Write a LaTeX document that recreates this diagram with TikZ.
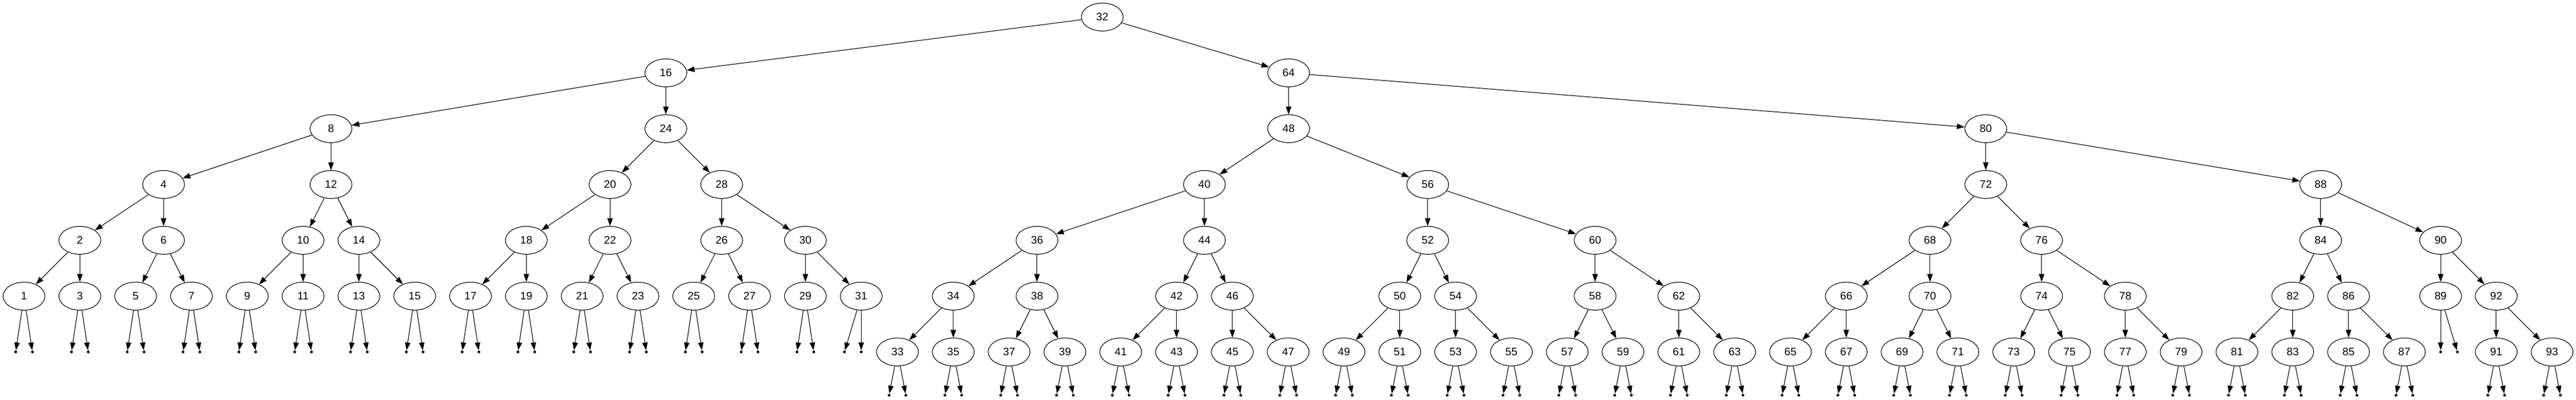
\documentclass[tikz,border=0pt]{standalone}
\usepackage{fontspec}
\setmainfont{Liberation Sans}
\usetikzlibrary{shapes.geometric,arrows.meta}

\begin{document}
\begin{tikzpicture}[x=1pt,y=1pt,line width=0.8pt,
  bst/.style={ellipse,draw,minimum width=54pt,minimum height=36pt,inner sep=0pt,font=\fontsize{14pt}{16pt}\selectfont},
  nil/.style={circle,fill,minimum size=3.6pt,inner sep=0pt},
  >={Triangle[length=10pt,width=7pt]}]
\useasboundingbox (0,0) rectangle (3323.25,-515.25);
% root and upper levels
\node (n32) at (1422,-22) [bst] {32};
\node (n16) at (859,-94) [bst] {16};
\node (n64) at (1662.4,-94) [bst] {64};
\node (n8) at (427,-166) [bst] {8};
\node (n24) at (859,-166) [bst] {24};
\node (n48) at (1662.4,-166) [bst] {48};
\node (n80) at (2561.8,-166) [bst] {80};
\node (n4) at (211,-238) [bst] {4};
\node (n12) at (427,-238) [bst] {12};
\node (n20) at (787,-238) [bst] {20};
\node (n28) at (931,-238) [bst] {28};
\node (n40) at (1553.8,-238) [bst] {40};
\node (n56) at (1841.8,-238) [bst] {56};
\node (n72) at (2561.8,-238) [bst] {72};
\node (n88) at (2993.8,-238) [bst] {88};
\node (n2) at (103,-310) [bst] {2};
\node (n6) at (211,-310) [bst] {6};
\node (n10) at (391,-310) [bst] {10};
\node (n14) at (463,-310) [bst] {14};
\node (n18) at (679,-310) [bst] {18};
\node (n22) at (787,-310) [bst] {22};
\node (n26) at (931,-310) [bst] {26};
\node (n30) at (1039,-310) [bst] {30};
\node (n36) at (1337.8,-310) [bst] {36};
\node (n44) at (1553.8,-310) [bst] {44};
\node (n52) at (1841.8,-310) [bst] {52};
\node (n60) at (2057.8,-310) [bst] {60};
\node (n68) at (2489.8,-310) [bst] {68};
\node (n76) at (2633.8,-310) [bst] {76};
\node (n84) at (2993.8,-310) [bst] {84};
\node (n90) at (3148.6,-310) [bst] {90};
% fifth level
\node (n1) at (31,-382) [bst] {1};
\node (n3) at (103,-382) [bst] {3};
\node (n5) at (175,-382) [bst] {5};
\node (n7) at (247,-382) [bst] {7};
\node (n9) at (319,-382) [bst] {9};
\node (n11) at (391,-382) [bst] {11};
\node (n13) at (463,-382) [bst] {13};
\node (n15) at (535,-382) [bst] {15};
\node (n17) at (607,-382) [bst] {17};
\node (n19) at (679,-382) [bst] {19};
\node (n21) at (751,-382) [bst] {21};
\node (n23) at (823,-382) [bst] {23};
\node (n25) at (895,-382) [bst] {25};
\node (n27) at (967,-382) [bst] {27};
\node (n29) at (1039,-382) [bst] {29};
\node (n31) at (1111,-382) [bst] {31};
\node (n34) at (1229.8,-382) [bst] {34};
\node (n38) at (1337.8,-382) [bst] {38};
\node (n42) at (1517.8,-382) [bst] {42};
\node (n46) at (1589.8,-382) [bst] {46};
\node (n50) at (1805.8,-382) [bst] {50};
\node (n54) at (1877.8,-382) [bst] {54};
\node (n58) at (2057.8,-382) [bst] {58};
\node (n62) at (2165.8,-382) [bst] {62};
\node (n66) at (2381.8,-382) [bst] {66};
\node (n70) at (2489.8,-382) [bst] {70};
\node (n74) at (2633.8,-382) [bst] {74};
\node (n78) at (2741.8,-382) [bst] {78};
\node (n82) at (2957.8,-382) [bst] {82};
\node (n86) at (3029.8,-382) [bst] {86};
\node (n89) at (3148.6,-382) [bst] {89};
\node (n92) at (3220.3,-382) [bst] {92};
% sixth level
\node (n33) at (1157.8,-454) [bst] {33};
\node (n35) at (1229.8,-454) [bst] {35};
\node (n37) at (1301.8,-454) [bst] {37};
\node (n39) at (1373.8,-454) [bst] {39};
\node (n41) at (1445.8,-454) [bst] {41};
\node (n43) at (1517.8,-454) [bst] {43};
\node (n45) at (1589.8,-454) [bst] {45};
\node (n47) at (1661.8,-454) [bst] {47};
\node (n49) at (1733.8,-454) [bst] {49};
\node (n51) at (1805.8,-454) [bst] {51};
\node (n53) at (1877.8,-454) [bst] {53};
\node (n55) at (1949.8,-454) [bst] {55};
\node (n57) at (2021.8,-454) [bst] {57};
\node (n59) at (2093.8,-454) [bst] {59};
\node (n61) at (2165.8,-454) [bst] {61};
\node (n63) at (2237.8,-454) [bst] {63};
\node (n65) at (2309.8,-454) [bst] {65};
\node (n67) at (2381.8,-454) [bst] {67};
\node (n69) at (2453.8,-454) [bst] {69};
\node (n71) at (2525.8,-454) [bst] {71};
\node (n73) at (2597.8,-454) [bst] {73};
\node (n75) at (2669.8,-454) [bst] {75};
\node (n77) at (2741.8,-454) [bst] {77};
\node (n79) at (2813.8,-454) [bst] {79};
\node (n81) at (2885.8,-454) [bst] {81};
\node (n83) at (2957.8,-454) [bst] {83};
\node (n85) at (3029.8,-454) [bst] {85};
\node (n87) at (3101.8,-454) [bst] {87};
\node (n91) at (3220.3,-454) [bst] {91};
\node (n93) at (3292.3,-454) [bst] {93};
% null children of the fifth level
\node (nil1a) at (20.2,-454) [nil] {};
\node (nil1b) at (41.8,-454) [nil] {};
\node (nil3a) at (92.2,-454) [nil] {};
\node (nil3b) at (113.8,-454) [nil] {};
\node (nil5a) at (164.2,-454) [nil] {};
\node (nil5b) at (185.8,-454) [nil] {};
\node (nil7a) at (236.2,-454) [nil] {};
\node (nil7b) at (257.8,-454) [nil] {};
\node (nil9a) at (308.2,-454) [nil] {};
\node (nil9b) at (329.8,-454) [nil] {};
\node (nil11a) at (380.2,-454) [nil] {};
\node (nil11b) at (401.8,-454) [nil] {};
\node (nil13a) at (452.2,-454) [nil] {};
\node (nil13b) at (473.8,-454) [nil] {};
\node (nil15a) at (524.2,-454) [nil] {};
\node (nil15b) at (545.8,-454) [nil] {};
\node (nil17a) at (596.2,-454) [nil] {};
\node (nil17b) at (617.8,-454) [nil] {};
\node (nil19a) at (668.2,-454) [nil] {};
\node (nil19b) at (689.8,-454) [nil] {};
\node (nil21a) at (740.2,-454) [nil] {};
\node (nil21b) at (761.8,-454) [nil] {};
\node (nil23a) at (812.2,-454) [nil] {};
\node (nil23b) at (833.8,-454) [nil] {};
\node (nil25a) at (884.2,-454) [nil] {};
\node (nil25b) at (905.8,-454) [nil] {};
\node (nil27a) at (956.2,-454) [nil] {};
\node (nil27b) at (977.8,-454) [nil] {};
\node (nil29a) at (1028.2,-454) [nil] {};
\node (nil29b) at (1049.8,-454) [nil] {};
\node (nil31a) at (1089.4,-454) [nil] {};
\node (nil31b) at (1111,-454) [nil] {};
\node (nil89a) at (3148.6,-454) [nil] {};
\node (nil89b) at (3170.2,-454) [nil] {};
% null children of the sixth level
\node (nil33a) at (1147,-509.8) [nil] {};
\node (nil33b) at (1168.6,-509.8) [nil] {};
\node (nil35a) at (1219,-509.8) [nil] {};
\node (nil35b) at (1240.6,-509.8) [nil] {};
\node (nil37a) at (1291,-509.8) [nil] {};
\node (nil37b) at (1312.6,-509.8) [nil] {};
\node (nil39a) at (1363,-509.8) [nil] {};
\node (nil39b) at (1384.6,-509.8) [nil] {};
\node (nil41a) at (1435,-509.8) [nil] {};
\node (nil41b) at (1456.6,-509.8) [nil] {};
\node (nil43a) at (1507,-509.8) [nil] {};
\node (nil43b) at (1528.6,-509.8) [nil] {};
\node (nil45a) at (1579,-509.8) [nil] {};
\node (nil45b) at (1600.6,-509.8) [nil] {};
\node (nil47a) at (1651,-509.8) [nil] {};
\node (nil47b) at (1672.6,-509.8) [nil] {};
\node (nil49a) at (1723,-509.8) [nil] {};
\node (nil49b) at (1744.6,-509.8) [nil] {};
\node (nil51a) at (1795,-509.8) [nil] {};
\node (nil51b) at (1816.6,-509.8) [nil] {};
\node (nil53a) at (1867,-509.8) [nil] {};
\node (nil53b) at (1888.6,-509.8) [nil] {};
\node (nil55a) at (1939,-509.8) [nil] {};
\node (nil55b) at (1960.6,-509.8) [nil] {};
\node (nil57a) at (2011,-509.8) [nil] {};
\node (nil57b) at (2032.6,-509.8) [nil] {};
\node (nil59a) at (2083,-509.8) [nil] {};
\node (nil59b) at (2104.6,-509.8) [nil] {};
\node (nil61a) at (2155,-509.8) [nil] {};
\node (nil61b) at (2176.6,-509.8) [nil] {};
\node (nil63a) at (2227,-509.8) [nil] {};
\node (nil63b) at (2248.6,-509.8) [nil] {};
\node (nil65a) at (2299,-509.8) [nil] {};
\node (nil65b) at (2320.6,-509.8) [nil] {};
\node (nil67a) at (2371,-509.8) [nil] {};
\node (nil67b) at (2392.6,-509.8) [nil] {};
\node (nil69a) at (2443,-509.8) [nil] {};
\node (nil69b) at (2464.6,-509.8) [nil] {};
\node (nil71a) at (2515,-509.8) [nil] {};
\node (nil71b) at (2536.6,-509.8) [nil] {};
\node (nil73a) at (2587,-509.8) [nil] {};
\node (nil73b) at (2608.6,-509.8) [nil] {};
\node (nil75a) at (2659,-509.8) [nil] {};
\node (nil75b) at (2680.6,-509.8) [nil] {};
\node (nil77a) at (2731,-509.8) [nil] {};
\node (nil77b) at (2752.6,-509.8) [nil] {};
\node (nil79a) at (2803,-509.8) [nil] {};
\node (nil79b) at (2824.6,-509.8) [nil] {};
\node (nil81a) at (2875,-509.8) [nil] {};
\node (nil81b) at (2896.6,-509.8) [nil] {};
\node (nil83a) at (2947,-509.8) [nil] {};
\node (nil83b) at (2968.6,-509.8) [nil] {};
\node (nil85a) at (3019,-509.8) [nil] {};
\node (nil85b) at (3040.6,-509.8) [nil] {};
\node (nil87a) at (3091,-509.8) [nil] {};
\node (nil87b) at (3112.6,-509.8) [nil] {};
\node (nil91a) at (3209.5,-509.8) [nil] {};
\node (nil91b) at (3231.1,-509.8) [nil] {};
\node (nil93a) at (3281.5,-509.8) [nil] {};
\node (nil93b) at (3303.1,-509.8) [nil] {};
% edges between keys
\draw[->](n32)--(n16);
\draw[->](n32)--(n64);
\draw[->](n16)--(n8);
\draw[->](n16)--(n24);
\draw[->](n64)--(n48);
\draw[->](n64)--(n80);
\draw[->](n8)--(n4);
\draw[->](n8)--(n12);
\draw[->](n24)--(n20);
\draw[->](n24)--(n28);
\draw[->](n48)--(n40);
\draw[->](n48)--(n56);
\draw[->](n80)--(n72);
\draw[->](n80)--(n88);
\draw[->](n4)--(n2);
\draw[->](n4)--(n6);
\draw[->](n12)--(n10);
\draw[->](n12)--(n14);
\draw[->](n20)--(n18);
\draw[->](n20)--(n22);
\draw[->](n28)--(n26);
\draw[->](n28)--(n30);
\draw[->](n40)--(n36);
\draw[->](n40)--(n44);
\draw[->](n56)--(n52);
\draw[->](n56)--(n60);
\draw[->](n72)--(n68);
\draw[->](n72)--(n76);
\draw[->](n88)--(n84);
\draw[->](n88)--(n90);
\draw[->](n2)--(n1);
\draw[->](n2)--(n3);
\draw[->](n6)--(n5);
\draw[->](n6)--(n7);
\draw[->](n10)--(n9);
\draw[->](n10)--(n11);
\draw[->](n14)--(n13);
\draw[->](n14)--(n15);
\draw[->](n18)--(n17);
\draw[->](n18)--(n19);
\draw[->](n22)--(n21);
\draw[->](n22)--(n23);
\draw[->](n26)--(n25);
\draw[->](n26)--(n27);
\draw[->](n30)--(n29);
\draw[->](n30)--(n31);
\draw[->](n36)--(n34);
\draw[->](n36)--(n38);
\draw[->](n44)--(n42);
\draw[->](n44)--(n46);
\draw[->](n52)--(n50);
\draw[->](n52)--(n54);
\draw[->](n60)--(n58);
\draw[->](n60)--(n62);
\draw[->](n68)--(n66);
\draw[->](n68)--(n70);
\draw[->](n76)--(n74);
\draw[->](n76)--(n78);
\draw[->](n84)--(n82);
\draw[->](n84)--(n86);
\draw[->](n90)--(n89);
\draw[->](n90)--(n92);
\draw[->](n34)--(n33);
\draw[->](n34)--(n35);
\draw[->](n38)--(n37);
\draw[->](n38)--(n39);
\draw[->](n42)--(n41);
\draw[->](n42)--(n43);
\draw[->](n46)--(n45);
\draw[->](n46)--(n47);
\draw[->](n50)--(n49);
\draw[->](n50)--(n51);
\draw[->](n54)--(n53);
\draw[->](n54)--(n55);
\draw[->](n58)--(n57);
\draw[->](n58)--(n59);
\draw[->](n62)--(n61);
\draw[->](n62)--(n63);
\draw[->](n66)--(n65);
\draw[->](n66)--(n67);
\draw[->](n70)--(n69);
\draw[->](n70)--(n71);
\draw[->](n74)--(n73);
\draw[->](n74)--(n75);
\draw[->](n78)--(n77);
\draw[->](n78)--(n79);
\draw[->](n82)--(n81);
\draw[->](n82)--(n83);
\draw[->](n86)--(n85);
\draw[->](n86)--(n87);
\draw[->](n92)--(n91);
\draw[->](n92)--(n93);
% edges to null children
\draw[->](n1)--(nil1a);
\draw[->](n1)--(nil1b);
\draw[->](n3)--(nil3a);
\draw[->](n3)--(nil3b);
\draw[->](n5)--(nil5a);
\draw[->](n5)--(nil5b);
\draw[->](n7)--(nil7a);
\draw[->](n7)--(nil7b);
\draw[->](n9)--(nil9a);
\draw[->](n9)--(nil9b);
\draw[->](n11)--(nil11a);
\draw[->](n11)--(nil11b);
\draw[->](n13)--(nil13a);
\draw[->](n13)--(nil13b);
\draw[->](n15)--(nil15a);
\draw[->](n15)--(nil15b);
\draw[->](n17)--(nil17a);
\draw[->](n17)--(nil17b);
\draw[->](n19)--(nil19a);
\draw[->](n19)--(nil19b);
\draw[->](n21)--(nil21a);
\draw[->](n21)--(nil21b);
\draw[->](n23)--(nil23a);
\draw[->](n23)--(nil23b);
\draw[->](n25)--(nil25a);
\draw[->](n25)--(nil25b);
\draw[->](n27)--(nil27a);
\draw[->](n27)--(nil27b);
\draw[->](n29)--(nil29a);
\draw[->](n29)--(nil29b);
\draw[->](n31)--(nil31a);
\draw[->](n31)--(nil31b);
\draw[->](n89)--(nil89a);
\draw[->](n89)--(nil89b);
\draw[->](n33)--(nil33a);
\draw[->](n33)--(nil33b);
\draw[->](n35)--(nil35a);
\draw[->](n35)--(nil35b);
\draw[->](n37)--(nil37a);
\draw[->](n37)--(nil37b);
\draw[->](n39)--(nil39a);
\draw[->](n39)--(nil39b);
\draw[->](n41)--(nil41a);
\draw[->](n41)--(nil41b);
\draw[->](n43)--(nil43a);
\draw[->](n43)--(nil43b);
\draw[->](n45)--(nil45a);
\draw[->](n45)--(nil45b);
\draw[->](n47)--(nil47a);
\draw[->](n47)--(nil47b);
\draw[->](n49)--(nil49a);
\draw[->](n49)--(nil49b);
\draw[->](n51)--(nil51a);
\draw[->](n51)--(nil51b);
\draw[->](n53)--(nil53a);
\draw[->](n53)--(nil53b);
\draw[->](n55)--(nil55a);
\draw[->](n55)--(nil55b);
\draw[->](n57)--(nil57a);
\draw[->](n57)--(nil57b);
\draw[->](n59)--(nil59a);
\draw[->](n59)--(nil59b);
\draw[->](n61)--(nil61a);
\draw[->](n61)--(nil61b);
\draw[->](n63)--(nil63a);
\draw[->](n63)--(nil63b);
\draw[->](n65)--(nil65a);
\draw[->](n65)--(nil65b);
\draw[->](n67)--(nil67a);
\draw[->](n67)--(nil67b);
\draw[->](n69)--(nil69a);
\draw[->](n69)--(nil69b);
\draw[->](n71)--(nil71a);
\draw[->](n71)--(nil71b);
\draw[->](n73)--(nil73a);
\draw[->](n73)--(nil73b);
\draw[->](n75)--(nil75a);
\draw[->](n75)--(nil75b);
\draw[->](n77)--(nil77a);
\draw[->](n77)--(nil77b);
\draw[->](n79)--(nil79a);
\draw[->](n79)--(nil79b);
\draw[->](n81)--(nil81a);
\draw[->](n81)--(nil81b);
\draw[->](n83)--(nil83a);
\draw[->](n83)--(nil83b);
\draw[->](n85)--(nil85a);
\draw[->](n85)--(nil85b);
\draw[->](n87)--(nil87a);
\draw[->](n87)--(nil87b);
\draw[->](n91)--(nil91a);
\draw[->](n91)--(nil91b);
\draw[->](n93)--(nil93a);
\draw[->](n93)--(nil93b);
\end{tikzpicture}
\end{document}
